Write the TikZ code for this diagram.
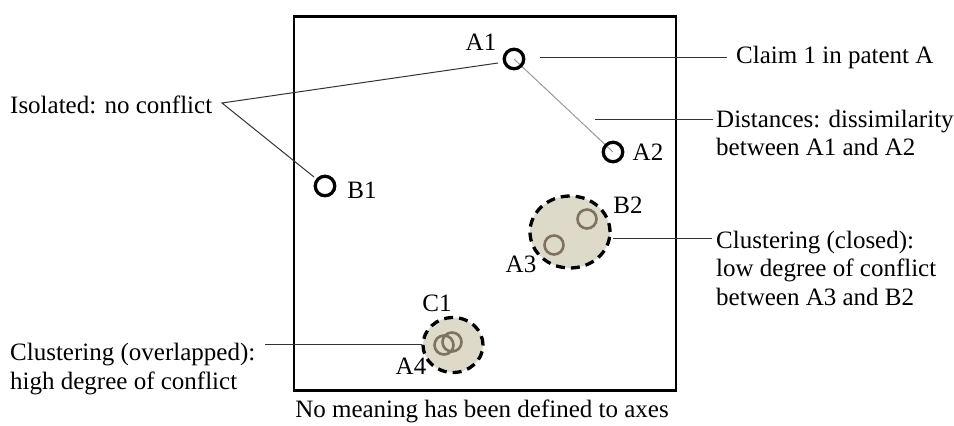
\documentclass[tikz,border=0pt]{standalone}
\usepackage{fontspec}
\setmainfont{Liberation Serif}
\usetikzlibrary{shapes.geometric}
\definecolor{clfill}{HTML}{DEDACA}
\definecolor{inring}{HTML}{7E735F}
\begin{document}
\begin{tikzpicture}[x=1pt,y=-1pt,
  txt/.style={font=\fontsize{25}{28.5}\selectfont, inner sep=0pt, text=black},
  lbl/.style={font=\fontsize{25}{28.5}\selectfont, inner sep=0pt, text=black},
  pt/.style={circle, draw=black, line width=3.3pt, minimum size=19.5pt, inner sep=0pt},
  inpt/.style={circle, draw=inring, line width=2.6pt, minimum size=19pt, inner sep=0pt},
  clus/.style={ellipse, draw=black, line width=3.3pt, dash pattern=on 9pt off 6pt, fill=clfill, inner sep=0pt},
  lead/.style={line width=1pt, draw=black!80}
]
\useasboundingbox (0,0) rectangle (954,426);
% frame
\node[draw, line width=2.5pt, minimum width=382pt, minimum height=374pt, inner sep=0pt] (frame) at (485,203.5) {};
% clusters
\node[clus, minimum width=80pt, minimum height=72pt] (cl1) at (570,232) {};
\node[clus, minimum width=60pt, minimum height=55pt] (cl2) at (453,345) {};
\node[inpt] (B2) at (587,219) {};
\node[inpt] (A3) at (554,245) {};
\node[inpt] (A4) at (444,345) {};
\node[inpt] (C1) at (452,342) {};
% isolated points
\draw[line width=1pt, draw=black!40] (514,59) -- (613,152);
\node[pt] (A1) at (514,59) {};
\node[pt] (A2) at (613,152) {};
\node[pt] (B1) at (325,186) {};
% labels
\node[lbl] (lA1) at (481,42) {A1};
\node[lbl] (lA2) at (648,152) {A2};
\node[lbl] (lB1) at (362,190) {B1};
\node[lbl] (lB2) at (628,205) {B2};
\node[lbl] (lA3) at (521,264) {A3};
\node[lbl] (lC1) at (437,303) {C1};
\node[lbl] (lA4) at (411,366) {A4};
% annotations
\node[txt, anchor=west] (claim) at (736,57) {Claim 1 in patent A};
\node[txt, anchor=west, align=left] (dist) at (716,133) {Distances: dissimilarity\\between A1 and A2};
\node[txt, anchor=west, align=left] (closed) at (716,268) {Clustering (closed):\\low degree of conflict\\between A3 and B2};
\node[txt, anchor=west, align=left] (over) at (10,369) {Clustering (overlapped):\\high degree of conflict};
\node[txt, anchor=west] (iso) at (10,105) {Isolated: no conflict};
\node[txt] (axes) at (482,411) {No meaning has been defined to axes};
% leader lines
\coordinate (isoA) at (222,103);
\coordinate (toA1) at (498,63);
\coordinate (toB1) at (314,177);
\draw[lead] (toA1) -- (isoA) -- (toB1);
\coordinate (c1a) at (540,57);
\coordinate (c1b) at (727,57);
\draw[lead] (c1a) -- (c1b);
\coordinate (dA) at (595,119);
\coordinate (dB) at (713,119);
\draw[lead] (dA) -- (dB);
\coordinate (clA) at (613,238);
\coordinate (clB) at (712,238);
\draw[lead] (clA) -- (clB);
\coordinate (ovA) at (265,344);
\coordinate (ovB) at (422,344);
\draw[lead] (ovA) -- (ovB);
\end{tikzpicture}
\end{document}
